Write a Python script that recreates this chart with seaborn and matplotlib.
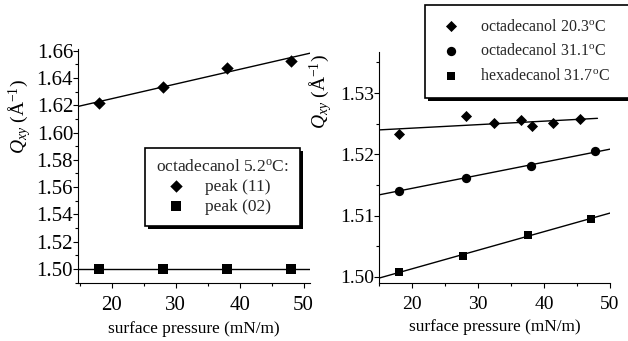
import numpy as np
import pandas as pd
import matplotlib
matplotlib.use("Agg")
import matplotlib.pyplot as plt
import matplotlib.patheffects as pe
from matplotlib.ticker import MultipleLocator, FormatStrFormatter
import seaborn as sns

sns.set_theme(style="ticks")
plt.rcParams["font.family"] = ["Liberation Serif", "DejaVu Serif"]
plt.rcParams["mathtext.fontset"] = "custom"
plt.rcParams["mathtext.rm"] = "Liberation Serif"
plt.rcParams["mathtext.it"] = "Liberation Serif:italic"
plt.rcParams["axes.linewidth"] = 0.8

# ---- left panel: octadecanol at 5.2 C, two peaks ----
left_pressure = [18, 28, 38, 48]
peak11_q = [1.6216, 1.6333, 1.6475, 1.6527]
peak02_q = [1.4999, 1.4999, 1.4999, 1.4999]
left_fit_range = [14.7, 51.0]

# ---- right panel: three films ----
octa20_pressure = [18.0, 28.2, 32.4, 36.5, 38.2, 41.3, 45.4]
octa20_q = [1.5233, 1.5262, 1.5251, 1.5256, 1.5246, 1.5251, 1.5257]
octa20_fit_range = [15.0, 48.1]

octa31_pressure = [18.0, 28.2, 38.1, 47.7]
octa31_q = [1.5141, 1.5162, 1.5181, 1.5205]
octa31_fit_range = [15.0, 50.0]

hexa31_pressure = [18.0, 27.8, 37.5, 47.1]
hexa31_q = [1.5008, 1.5035, 1.5068, 1.5095]
hexa31_fit_range = [15.0, 50.0]

left_yticks = [1.50, 1.52, 1.54, 1.56, 1.58, 1.60, 1.62, 1.64, 1.66]
right_yticks = [1.50, 1.51, 1.52, 1.53]
xticks = [20, 30, 40, 50]

W, H = 628, 341
fig = plt.figure(figsize=(W / 100, H / 100), dpi=100)
fig.patch.set_facecolor("white")


def px_axes(x0, y0, x1, y1):
    return fig.add_axes([x0 / W, 1 - y1 / H, (x1 - x0) / W, (y1 - y0) / H])


axL = px_axes(78, 49, 310, 283)
axR = px_axes(379, 52, 610, 283)


def fit_line(ax, xs, ys, xr):
    slope, icpt = np.polyfit(xs, ys, 1)
    xx = np.array(xr)
    sns.lineplot(x=xx, y=icpt + slope * xx, ax=ax, color="black",
                 linewidth=1.0, legend=False, zorder=2)


def points(ax, xs, ys, marker, size, label):
    sns.scatterplot(x=xs, y=ys, ax=ax, marker=marker, s=size, color="black",
                    edgecolor="black", linewidth=0, label=label, zorder=3)


# left panel
fit_line(axL, left_pressure, peak11_q, left_fit_range)
fit_line(axL, left_pressure, peak02_q, left_fit_range)
points(axL, left_pressure, peak11_q, "D", 40, "peak (11)")
points(axL, left_pressure, peak02_q, "s", 45, "peak (02)")

# right panel
fit_line(axR, octa20_pressure, octa20_q, octa20_fit_range)
fit_line(axR, octa31_pressure, octa31_q, octa31_fit_range)
fit_line(axR, hexa31_pressure, hexa31_q, hexa31_fit_range)
points(axR, octa20_pressure, octa20_q, "D", 32, r"octadecanol 20.3$^\mathrm{o}$C")
points(axR, octa31_pressure, octa31_q, "o", 45, r"octadecanol 31.1$^\mathrm{o}$C")
points(axR, hexa31_pressure, hexa31_q, "s", 40, r"hexadecanol 31.7$^\mathrm{o}$C")

axL.set_xlim(14.7, 51.0)
axL.set_ylim(1.4897, 1.6612)
axR.set_xlim(15.0, 50.0)
axR.set_ylim(1.49902, 1.53669)

axL.set_yticks(left_yticks)
axR.set_yticks(right_yticks)
axL.yaxis.set_major_formatter(FormatStrFormatter("%.2f"))
axR.yaxis.set_major_formatter(FormatStrFormatter("%.2f"))
axL.yaxis.set_minor_locator(MultipleLocator(0.01))
axR.yaxis.set_minor_locator(MultipleLocator(0.005))

for ax, lsize in ((axL, 15), (axR, 14)):
    ax.set_facecolor("white")
    ax.set_xticks(xticks)
    ax.xaxis.set_minor_locator(MultipleLocator(5))
    for side in ("top", "right"):
        ax.spines[side].set_visible(False)
    for side in ("left", "bottom"):
        ax.spines[side].set_color("black")
    ax.tick_params(axis="both", which="major", direction="out", length=3.5,
                   width=0.8, color="black", labelsize=lsize,
                   labelcolor="black")
    ax.tick_params(axis="both", which="minor", direction="out", length=2,
                   width=0.8, color="black")
    ax.tick_params(axis="y", which="major", pad=0)
    ax.tick_params(axis="x", which="major", pad=6)
    ax.set_xlabel("surface pressure (mN/m)", fontsize=12.4, labelpad=4,
                  color="black")
    ax.set_ylabel(r"$Q_{xy}$ (Å$^{-1}$)", fontsize=14, color="black")

axL.yaxis.set_label_coords(-0.195, 0.712)
axR.yaxis.set_label_coords(-0.195, 0.83)

frame_shadow = [pe.SimplePatchShadow(offset=(2.3, -2.3), shadow_rgbFace="black",
                                     alpha=1.0),
                pe.Normal()]

legL = axL.legend(loc="upper left", bbox_to_anchor=(0.289, 0.579),
                  borderaxespad=0, title=r"octadecanol 5.2$^\mathrm{o}$C:",
                  alignment="left", fontsize=12.5, title_fontsize=12.5,
                  frameon=True, fancybox=False,
                  edgecolor="black", framealpha=1, handlelength=2.3,
                  handletextpad=0.5, labelspacing=0.22, borderpad=0.65)
legL.get_frame().set_linewidth(1.2)
legL.get_frame().set_path_effects(frame_shadow)

# right legend sits in the top-right corner, running past the figure edge
handles, labels = axR.get_legend_handles_labels()
axR.legend().remove()
box_h = 0.01
legR = fig.legend(handles, labels, loc="upper left",
                  bbox_to_anchor=(425 / W, 1 - 5 / H - box_h, 220 / W, box_h),
                  mode="expand", borderaxespad=0, fontsize=11.5, frameon=True,
                  fancybox=False, edgecolor="black",
                  framealpha=1, handlelength=1.5, handletextpad=1.1,
                  labelspacing=0.55, borderpad=0.85)
legR.get_frame().set_linewidth(1.2)
legR.get_frame().set_path_effects(frame_shadow)

fig.savefig("out.png", dpi=100, facecolor="white")
